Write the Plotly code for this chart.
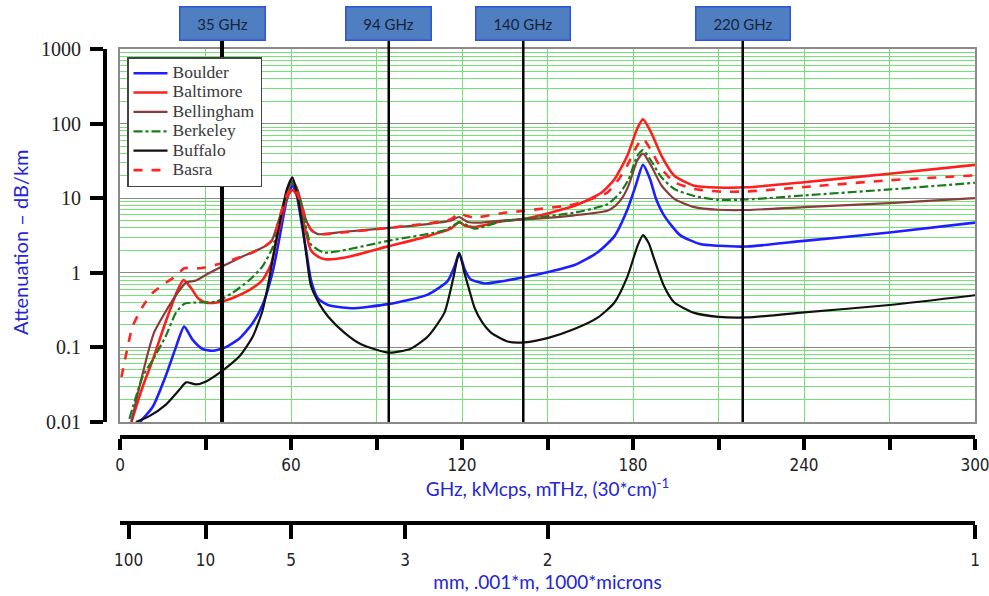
import plotly.graph_objects as go

# ---------------- data ----------------
boulder_f = [7, 11.5, 16, 19.6, 22.5, 25.5, 29, 32.5, 37, 42, 46.5, 50, 53.5, 56, 58.5, 60.5, 62, 64, 65.5, 67,
             69.5, 73, 81, 94, 108, 115, 117.5, 119, 121, 123, 128, 134, 142, 150, 159.5, 167.5, 173.5, 178, 181,
             183.5, 186, 188, 191, 196.5, 203.5, 210, 220, 240, 270, 300]
boulder_v = [0.01, 0.016, 0.041, 0.10, 0.19, 0.126, 0.095, 0.09, 0.10, 0.133, 0.21, 0.37, 1.0, 3.0, 9.5, 15, 11, 4,
             1.8, 0.8, 0.45, 0.37, 0.335, 0.38, 0.51, 0.78, 1.25, 1.84, 1.1, 0.82, 0.72, 0.77, 0.88, 1.02, 1.27, 1.87,
             3.1, 7, 15, 28, 18, 10, 5.8, 3.2, 2.43, 2.3, 2.25, 2.68, 3.47, 4.7]

baltimore_f = [4, 8, 11.5, 15, 18, 20, 22.3, 25, 27.3, 30, 34, 39.5, 45.5, 50, 53, 56, 58.5, 60.5, 62, 63.5, 65, 67,
               69.5, 72, 79, 94, 108, 116, 119, 121, 124, 134, 142, 159.5, 169, 173.5, 178, 181.5, 183.5, 186.3, 190,
               194.5, 201.5, 210, 220, 240, 270, 300]
baltimore_v = [0.01, 0.03, 0.068, 0.17, 0.355, 0.56, 0.8, 0.62, 0.46, 0.40, 0.40, 0.46, 0.59, 0.80, 1.3, 4.2, 10, 13,
               11, 7, 3.8, 2.0, 1.65, 1.52, 1.6, 2.26, 3.1, 3.9, 4.8, 4.3, 4.1, 4.9, 5.3, 7.9, 11.9, 18, 37, 86, 114,
               77, 37, 20, 14.7, 13.9, 14, 16.4, 21.3, 28]

bellingham_f = [4, 6, 8, 10, 12, 15, 18.5, 21.4, 23.2, 26.7, 30.2, 36.3, 43, 49, 53, 56, 58.5, 60.5, 62, 63.5, 65,
                67, 69.4, 78.7, 94.4, 108, 116, 119, 122, 126, 134, 142, 159.4, 171, 174, 176.5, 178.5, 181.5, 183.5,
                186.3, 190, 194.5, 201.5, 210, 220, 240, 270, 300]
bellingham_v = [0.01, 0.022, 0.045, 0.09, 0.16, 0.26, 0.43, 0.62, 0.74, 0.79, 0.94, 1.24, 1.66, 2.08, 2.6, 5.5, 12,
                17, 14, 9, 5.5, 3.8, 3.3, 3.55, 4.0, 4.5, 5.0, 5.6, 4.8, 4.7, 5.0, 5.2, 5.9, 6.8, 8, 10.5, 15, 32,
                39.5, 27.5, 14.8, 9.8, 7.6, 7.0, 6.95, 7.6, 8.6, 10.0]

berkeley_f = [3.3, 8, 11.5, 16, 19.6, 22.6, 26.7, 33.7, 39.5, 45.4, 50, 53.6, 56, 58.5, 60.5, 62, 63.5, 65, 67, 71.7,
              94.4, 113.8, 119, 122, 124.4, 134, 142, 159.4, 171, 175.5, 178.5, 181.5, 183.5, 186.3, 190, 194.5,
              201.5, 210, 220, 240, 270, 300]
berkeley_v = [0.011, 0.041, 0.068, 0.14, 0.29, 0.385, 0.40, 0.41, 0.54, 0.8, 1.22, 2.2, 5, 11, 16, 13, 8.5, 4.5, 2.4,
              1.87, 2.7, 3.7, 4.7, 4.3, 3.9, 4.9, 5.3, 6.4, 8.3, 11.9, 18, 37, 44, 32, 19, 13.3, 10.7, 9.5, 9.6, 10.9,
              13.1, 16.1]

buffalo_f = [5.6, 10.3, 16, 20.8, 23.2, 26.7, 30.2, 36.3, 41.9, 46.6, 50.1, 52.4, 54.5, 57, 58.5, 60.5, 62, 64, 65.5,
             67, 70, 73, 78.7, 84.6, 94.4, 102, 108, 113.8, 116.8, 119, 121, 122.5, 124.4, 127, 130.2, 136, 142, 150,
             159.4, 167.6, 173.5, 178, 181.6, 183.5, 185.5, 187.5, 190.9, 194.5, 201.5, 210, 220, 240, 270, 300]
buffalo_v = [0.01, 0.012, 0.017, 0.027, 0.034, 0.032, 0.035, 0.05, 0.076, 0.14, 0.32, 0.85, 2.4, 7, 13, 19, 12, 4.3,
             1.6, 0.67, 0.38, 0.26, 0.158, 0.11, 0.085, 0.096, 0.14, 0.29, 0.8, 1.84, 0.95, 0.6, 0.34, 0.22, 0.158,
             0.12, 0.117, 0.133, 0.176, 0.25, 0.40, 0.88, 2.3, 3.2, 2.5, 1.5, 0.66, 0.40, 0.29, 0.257, 0.252, 0.294,
             0.37, 0.5]

basra_f = [0.5, 2, 4.4, 8, 11.5, 16, 20, 22.5, 28, 33.7, 39.5, 45.4, 51, 53.6, 56, 58.5, 60.5, 62, 63.5, 65, 67, 69.5,
           79, 94, 108, 116, 119, 121.5, 124.4, 134, 142, 159.4, 171, 175, 178, 181.5, 183.5, 186.3, 190, 194.5,
           201.5, 210, 220, 240, 270, 300]
basra_v = [0.04, 0.076, 0.19, 0.355, 0.54, 0.73, 0.93, 1.15, 1.15, 1.28, 1.5, 1.8, 2.3, 2.8, 5.5, 11, 14, 12, 8.5,
           5.5, 3.8, 3.3, 3.5, 4.0, 4.6, 5.2, 6.3, 5.8, 5.5, 6.3, 6.8, 8.3, 11.9, 18, 27.5, 51, 63, 44, 24.8, 16.4,
           13.3, 12.3, 12.3, 14.1, 17.4, 20.2]

marker_freqs = [35.8, 94.3, 141.5, 218.5]
marker_labels = ["35 GHz", "94 GHz", "140 GHz", "220 GHz"]

y_tickvals = [0.01, 0.1, 1, 10, 100, 1000]
y_ticktext = ["0.01", "0.1", "1", "10", "100", "1000"]

freq_tickvals = [0, 60, 120, 180, 240, 300]
freq_ticktext = ["0", "60", "120", "180", "240", "300"]

wl_mm_labels = ["100", "10", "5", "3", "2", "1"]
wl_mm_values = [100, 10, 5, 3, 2, 1]
wl_tickvals = [300.0 / mm for mm in wl_mm_values]   # GHz position of each wavelength (mm)

# ---------------- figure ----------------
series = [
    ("Boulder", boulder_f, boulder_v, "#1e1eff", 2.6, "solid"),
    ("Baltimore", baltimore_f, baltimore_v, "#ff1e1e", 2.6, "solid"),
    ("Bellingham", bellingham_f, bellingham_v, "#8a3c3c", 2.2, "solid"),
    ("Berkeley", berkeley_f, berkeley_v, "#1b7a1b", 2.2, "dashdot"),
    ("Buffalo", buffalo_f, buffalo_v, "#111111", 2.2, "solid"),
    ("Basra", basra_f, basra_v, "#ff2424", 2.6, "dash"),
]

fig = go.Figure()
for name, fx, fy, col, w, dash in series:
    fig.add_trace(go.Scatter(x=fx, y=fy, mode="lines",
                             name='<span style="font-size:17.5px">' + name + '</span>',
                             line=dict(color=col, width=w, dash=dash, shape="spline", smoothing=0.6)))

L, R, T, B = 20, 14, 49, 20
W, H = 989, 596
pw, ph = W - L - R, H - T - B
xdom0 = (120 - L) / pw
ydom0 = (H - B - 422) / ph

green = "#74e274"
grey = "#8a8a8a"
blue_txt = "#2424d8"
tick_font = dict(family="Liberation Sans Narrow, DejaVu Sans Condensed, Lato, sans-serif", size=17, color="#222222")

fig.update_layout(
    width=W, height=H,
    margin=dict(l=L, r=R, t=T, b=B),
    paper_bgcolor="white", plot_bgcolor="white",
    showlegend=True,
    legend=dict(x=(127 - L) / pw, y=(H - B - 57) / ph, xanchor="left", yanchor="top",
                bgcolor="white", bordercolor="#444444", borderwidth=1.5,
                font=dict(family="Liberation Serif, Times New Roman, serif", size=12.6, color="#3a3a3a"),
                itemwidth=34, tracegroupgap=0),
    xaxis=dict(domain=[xdom0, 1], range=[0, 300], showgrid=True, gridcolor=green, gridwidth=1.2,
               dtick=30, tick0=0, showticklabels=False, ticks="", zeroline=False,
               showline=True, mirror=True, linecolor=grey, linewidth=1.5),
    yaxis=dict(domain=[ydom0, 1], type="log", range=[-2, 3], showgrid=True, gridcolor=grey, gridwidth=1.2,
               tickvals=y_tickvals, showticklabels=False, ticks="", zeroline=False,
               showline=True, mirror=True, linecolor=grey, linewidth=1.5,
               minor=dict(dtick="D1", showgrid=True, gridcolor=green, gridwidth=1.1, ticks="")),
    xaxis2=dict(overlaying="x", anchor="free", position=(H - B - 437) / ph, range=[0, 300],
                tickvals=freq_tickvals, ticktext=freq_ticktext, ticks="outside", ticklen=11, tickwidth=3.5,
                tickcolor="black", showline=True, linecolor="black", linewidth=3.5, showgrid=False,
                minor=dict(dtick=30, tick0=0, ticks="outside", ticklen=11, tickwidth=3.5, tickcolor="black",
                           showgrid=False),
                zeroline=False, ticklabelstandoff=1, tickfont=tick_font, ticklabeloverflow="allow",
                title=dict(text="GHz, kMcps, mTHz, (30*cm)<sup>-1</sup>", standoff=6,
                           font=dict(family="Lato, Open Sans, sans-serif", size=19, color=blue_txt)),
                automargin=False),
    xaxis3=dict(overlaying="x", anchor="free", position=(H - B - 523) / ph, range=[0, 300],
                tickvals=wl_tickvals, ticktext=wl_mm_labels, ticks="outside", ticklen=14, tickwidth=3.5,
                tickcolor="black", showline=True, linecolor="black", linewidth=3.5, showgrid=False,
                zeroline=False, ticklabelstandoff=7, tickfont=tick_font, ticklabeloverflow="allow",
                title=dict(text="mm, .001*m, 1000*microns", standoff=0,
                           font=dict(family="Lato, Open Sans, sans-serif", size=19, color=blue_txt)),
                automargin=False),
    yaxis2=dict(overlaying="y", anchor="free", position=(105 - L) / pw, type="log", range=[-2, 3],
                side="left", tickvals=y_tickvals, ticktext=y_ticktext, ticks="outside", ticklen=13,
                tickwidth=4, tickcolor="black", showline=True, linecolor="black", linewidth=4,
                showgrid=False, zeroline=False, ticklabelstandoff=5,
                tickfont=dict(family="Liberation Serif, Times New Roman, serif", size=20, color="#222222"),
                automargin=False),
)

# invisible traces so the overlay axes are drawn
fig.add_trace(go.Scatter(x=[0, 300], y=[None, None], xaxis="x2", yaxis="y", showlegend=False, hoverinfo="skip"))
fig.add_trace(go.Scatter(x=[0, 300], y=[None, None], xaxis="x3", yaxis="y", showlegend=False, hoverinfo="skip"))
fig.add_trace(go.Scatter(x=[None], y=[0.01, 1000], xaxis="x", yaxis="y2", showlegend=False, hoverinfo="skip"))

# frequency marker lines with labelled boxes
for i, (f, lab) in enumerate(zip(marker_freqs, marker_labels)):
    fig.add_shape(type="line", xref="x", yref="y domain", x0=f, x1=f, y0=0, y1=1.022,
                  line=dict(color="black", width=4 if i == 0 else 2.5), layer="above")
    fig.add_annotation(x=f, xref="x", y=(422 - 24) / 373, yref="y domain", text=lab, showarrow=False,
                       xanchor="center", yanchor="middle",
                       bgcolor="#4f7fc0", bordercolor="#2f55d8", borderwidth=1.5, borderpad=1,
                       width=82 if len(lab) < 7 else 91, height=30,
                       font=dict(family="Lato, Open Sans, sans-serif", size=15, color="#17243a"))

# y axis title
fig.add_annotation(x=(20 - L) / pw, xref="paper", y=(H - B - 242) / ph, yref="paper",
                   xanchor="center", yanchor="middle",
                   text="Attenuation – dB/km", textangle=-90, showarrow=False,
                   font=dict(family="Lato, Open Sans, sans-serif", size=20, color=blue_txt))

fig.write_html("out.html", post_script="document.body.style.margin='0px';",
               config={"displayModeBar": False})
